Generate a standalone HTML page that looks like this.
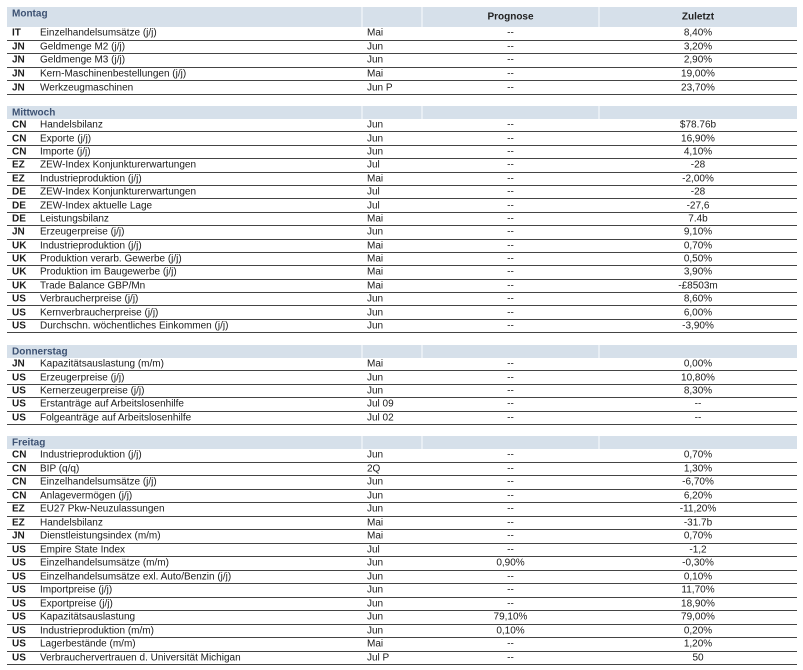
<!DOCTYPE html>
<html><head><meta charset="utf-8"><style>
body{margin:0;width:803px;height:670px;background:#fff;font-family:"Liberation Sans",sans-serif;font-size:10px;color:#1a1a1a;position:relative;overflow:hidden}
.s{position:absolute;left:7px;width:790px}
.h{position:relative;background:#d6e0ea;color:#3d5273;font-weight:bold;box-sizing:border-box}
.h i{position:absolute;top:0;bottom:0;width:2px;background:#e8eef4}
.r{position:relative;box-sizing:border-box;border-bottom:1px solid #444;white-space:nowrap}
.r span,.h span{position:absolute;top:50%;transform:translateY(-50%)}
.c{left:5px;font-weight:bold}
.n{left:33px}
.p{left:360px}
.f{left:415px;width:177px;text-align:center}
.z{left:592px;width:198px;text-align:center}
</style></head><body>

<div class="s" style="top:7px">
<div class="h" style="height:20px"><span style="left:5px;top:7px">Montag</span><i style="left:354px"></i><i style="left:414px"></i><i style="left:591px"></i><span class="f" style="color:#222">Prognose</span><span class="z" style="color:#222">Zuletzt</span></div>
<div class="r" style="height:13.6px"><span class="c">IT</span><span class="n">Einzelhandelsumsätze (j/j)</span><span class="p">Mai</span><span class="f">--</span><span class="z">8,40%</span></div>
<div class="r" style="height:13.6px"><span class="c">JN</span><span class="n">Geldmenge M2 (j/j)</span><span class="p">Jun</span><span class="f">--</span><span class="z">3,20%</span></div>
<div class="r" style="height:13.6px"><span class="c">JN</span><span class="n">Geldmenge M3 (j/j)</span><span class="p">Jun</span><span class="f">--</span><span class="z">2,90%</span></div>
<div class="r" style="height:13.6px"><span class="c">JN</span><span class="n">Kern-Maschinenbestellungen (j/j)</span><span class="p">Mai</span><span class="f">--</span><span class="z">19,00%</span></div>
<div class="r" style="height:13.6px"><span class="c">JN</span><span class="n">Werkzeugmaschinen</span><span class="p">Jun P</span><span class="f">--</span><span class="z">23,70%</span></div>
</div>

<div class="s" style="top:106px">
<div class="h" style="height:13px"><span style="left:5px">Mittwoch</span><i style="left:354px"></i><i style="left:414px"></i><i style="left:591px"></i></div>
<div class="r" style="height:13.4px"><span class="c">CN</span><span class="n">Handelsbilanz</span><span class="p">Jun</span><span class="f">--</span><span class="z">$78.76b</span></div>
<div class="r" style="height:13.4px"><span class="c">CN</span><span class="n">Exporte (j/j)</span><span class="p">Jun</span><span class="f">--</span><span class="z">16,90%</span></div>
<div class="r" style="height:13.4px"><span class="c">CN</span><span class="n">Importe (j/j)</span><span class="p">Jun</span><span class="f">--</span><span class="z">4,10%</span></div>
<div class="r" style="height:13.4px"><span class="c">EZ</span><span class="n">ZEW-Index Konjunkturerwartungen</span><span class="p">Jul</span><span class="f">--</span><span class="z">-28</span></div>
<div class="r" style="height:13.4px"><span class="c">EZ</span><span class="n">Industrieproduktion (j/j)</span><span class="p">Mai</span><span class="f">--</span><span class="z">-2,00%</span></div>
<div class="r" style="height:13.4px"><span class="c">DE</span><span class="n">ZEW-Index Konjunkturerwartungen</span><span class="p">Jul</span><span class="f">--</span><span class="z">-28</span></div>
<div class="r" style="height:13.4px"><span class="c">DE</span><span class="n">ZEW-Index aktuelle Lage</span><span class="p">Jul</span><span class="f">--</span><span class="z">-27,6</span></div>
<div class="r" style="height:13.4px"><span class="c">DE</span><span class="n">Leistungsbilanz</span><span class="p">Mai</span><span class="f">--</span><span class="z">7.4b</span></div>
<div class="r" style="height:13.4px"><span class="c">JN</span><span class="n">Erzeugerpreise (j/j)</span><span class="p">Jun</span><span class="f">--</span><span class="z">9,10%</span></div>
<div class="r" style="height:13.4px"><span class="c">UK</span><span class="n">Industrieproduktion (j/j)</span><span class="p">Mai</span><span class="f">--</span><span class="z">0,70%</span></div>
<div class="r" style="height:13.4px"><span class="c">UK</span><span class="n">Produktion verarb. Gewerbe (j/j)</span><span class="p">Mai</span><span class="f">--</span><span class="z">0,50%</span></div>
<div class="r" style="height:13.4px"><span class="c">UK</span><span class="n">Produktion im Baugewerbe (j/j)</span><span class="p">Mai</span><span class="f">--</span><span class="z">3,90%</span></div>
<div class="r" style="height:13.4px"><span class="c">UK</span><span class="n">Trade Balance GBP/Mn</span><span class="p">Mai</span><span class="f">--</span><span class="z">-£8503m</span></div>
<div class="r" style="height:13.4px"><span class="c">US</span><span class="n">Verbraucherpreise (j/j)</span><span class="p">Jun</span><span class="f">--</span><span class="z">8,60%</span></div>
<div class="r" style="height:13.4px"><span class="c">US</span><span class="n">Kernverbraucherpreise (j/j)</span><span class="p">Jun</span><span class="f">--</span><span class="z">6,00%</span></div>
<div class="r" style="height:13.4px"><span class="c">US</span><span class="n">Durchschn. wöchentliches Einkommen (j/j)</span><span class="p">Jun</span><span class="f">--</span><span class="z">-3,90%</span></div>
</div>

<div class="s" style="top:345px">
<div class="h" style="height:13px"><span style="left:5px">Donnerstag</span><i style="left:354px"></i><i style="left:414px"></i><i style="left:591px"></i></div>
<div class="r" style="height:13.4px"><span class="c">JN</span><span class="n">Kapazitätsauslastung (m/m)</span><span class="p">Mai</span><span class="f">--</span><span class="z">0,00%</span></div>
<div class="r" style="height:13.4px"><span class="c">US</span><span class="n">Erzeugerpreise (j/j)</span><span class="p">Jun</span><span class="f">--</span><span class="z">10,80%</span></div>
<div class="r" style="height:13.4px"><span class="c">US</span><span class="n">Kernerzeugerpreise (j/j)</span><span class="p">Jun</span><span class="f">--</span><span class="z">8,30%</span></div>
<div class="r" style="height:13.4px"><span class="c">US</span><span class="n">Erstanträge auf Arbeitslosenhilfe</span><span class="p">Jul 09</span><span class="f">--</span><span class="z">--</span></div>
<div class="r" style="height:13.4px"><span class="c">US</span><span class="n">Folgeanträge auf Arbeitslosenhilfe</span><span class="p">Jul 02</span><span class="f">--</span><span class="z">--</span></div>
</div>

<div class="s" style="top:436px">
<div class="h" style="height:13px"><span style="left:5px">Freitag</span><i style="left:354px"></i><i style="left:414px"></i><i style="left:591px"></i></div>
<div class="r" style="height:13.5px"><span class="c">CN</span><span class="n">Industrieproduktion (j/j)</span><span class="p">Jun</span><span class="f">--</span><span class="z">0,70%</span></div>
<div class="r" style="height:13.5px"><span class="c">CN</span><span class="n">BIP (q/q)</span><span class="p">2Q</span><span class="f">--</span><span class="z">1,30%</span></div>
<div class="r" style="height:13.5px"><span class="c">CN</span><span class="n">Einzelhandelsumsätze (j/j)</span><span class="p">Jun</span><span class="f">--</span><span class="z">-6,70%</span></div>
<div class="r" style="height:13.5px"><span class="c">CN</span><span class="n">Anlagevermögen (j/j)</span><span class="p">Jun</span><span class="f">--</span><span class="z">6,20%</span></div>
<div class="r" style="height:13.5px"><span class="c">EZ</span><span class="n">EU27 Pkw-Neuzulassungen</span><span class="p">Jun</span><span class="f">--</span><span class="z">-11,20%</span></div>
<div class="r" style="height:13.5px"><span class="c">EZ</span><span class="n">Handelsbilanz</span><span class="p">Mai</span><span class="f">--</span><span class="z">-31.7b</span></div>
<div class="r" style="height:13.5px"><span class="c">JN</span><span class="n">Dienstleistungsindex (m/m)</span><span class="p">Mai</span><span class="f">--</span><span class="z">0,70%</span></div>
<div class="r" style="height:13.5px"><span class="c">US</span><span class="n">Empire State Index</span><span class="p">Jul</span><span class="f">--</span><span class="z">-1,2</span></div>
<div class="r" style="height:13.5px"><span class="c">US</span><span class="n">Einzelhandelsumsätze (m/m)</span><span class="p">Jun</span><span class="f">0,90%</span><span class="z">-0,30%</span></div>
<div class="r" style="height:13.5px"><span class="c">US</span><span class="n">Einzelhandelsumsätze exl. Auto/Benzin (j/j)</span><span class="p">Jun</span><span class="f">--</span><span class="z">0,10%</span></div>
<div class="r" style="height:13.5px"><span class="c">US</span><span class="n">Importpreise (j/j)</span><span class="p">Jun</span><span class="f">--</span><span class="z">11,70%</span></div>
<div class="r" style="height:13.5px"><span class="c">US</span><span class="n">Exportpreise (j/j)</span><span class="p">Jun</span><span class="f">--</span><span class="z">18,90%</span></div>
<div class="r" style="height:13.5px"><span class="c">US</span><span class="n">Kapazitätsauslastung</span><span class="p">Jun</span><span class="f">79,10%</span><span class="z">79,00%</span></div>
<div class="r" style="height:13.5px"><span class="c">US</span><span class="n">Industrieproduktion (m/m)</span><span class="p">Jun</span><span class="f">0,10%</span><span class="z">0,20%</span></div>
<div class="r" style="height:13.5px"><span class="c">US</span><span class="n">Lagerbestände (m/m)</span><span class="p">Mai</span><span class="f">--</span><span class="z">1,20%</span></div>
<div class="r" style="height:13.5px"><span class="c">US</span><span class="n">Verbrauchervertrauen d. Universität Michigan</span><span class="p">Jul P</span><span class="f">--</span><span class="z">50</span></div>
</div>

</body></html>
